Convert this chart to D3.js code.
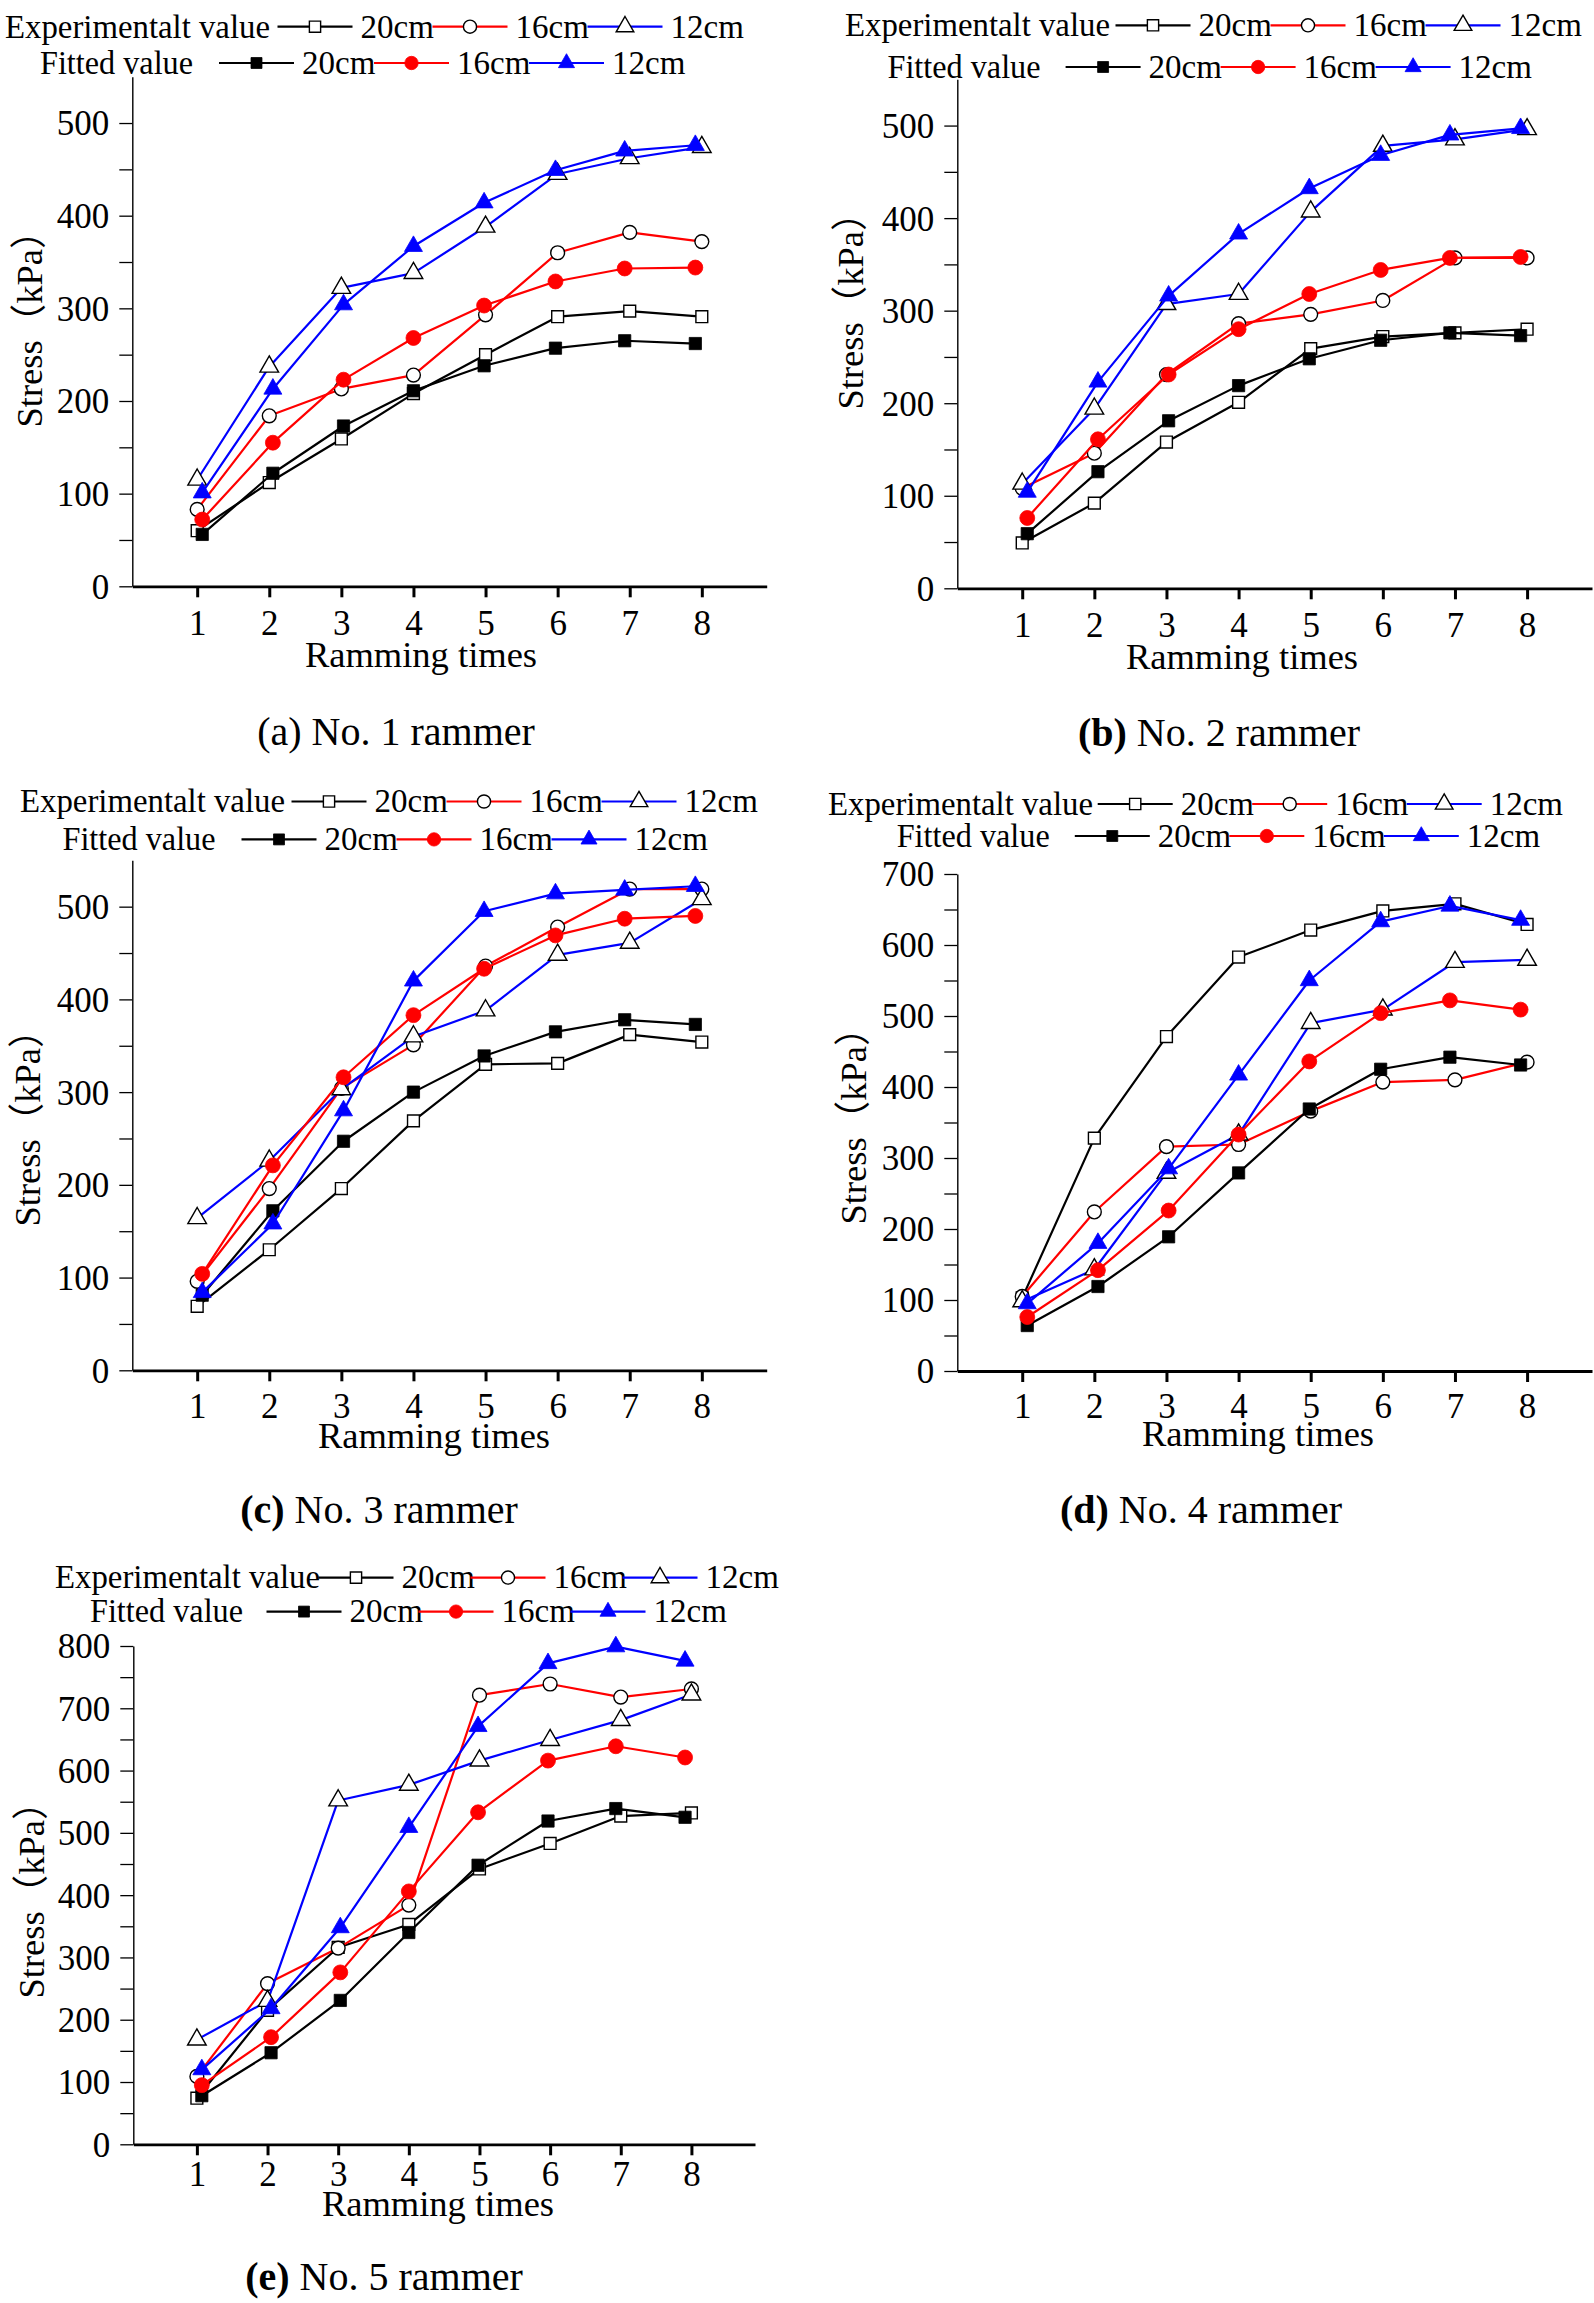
<!DOCTYPE html>
<html>
<head>
<meta charset="utf-8">
<script src="https://cdn.jsdelivr.net/npm/d3@7"></script>
<style>
  html, body { margin: 0; padding: 0; background: #ffffff; }
  svg { display: block; }
  text { font-family: "Liberation Serif", "Times New Roman", "Noto Sans CJK SC", serif; fill: #000; }
</style>
</head>
<body>
<script>
// ---------- DATA ----------
const ramTimes = [1, 2, 3, 4, 5, 6, 7, 8];
const fittedX = [1.07, 2.05, 3.03, 4.0, 4.98, 5.97, 6.93, 7.91];
const seriesLabels = ["20cm", "16cm", "12cm"];
const legendRowLabels = ["Experimentalt value", "Fitted value"];

// (a) No. 1 rammer
const expA20 = [60, 112, 159, 208, 250, 291, 297, 291];
const expA16 = [83, 184, 213, 228, 293, 360, 382, 372];
const expA12 = [115, 237, 322, 338, 388, 445, 462, 474];
const fitA20 = [56, 122, 173, 211, 238, 257, 265, 262];
const fitA16 = [72, 155, 223, 268, 303, 329, 343, 344];
const fitA12 = [101, 213, 304, 367, 414, 449, 470, 476];

// (b) No. 2 rammer
const expB20 = [49, 92, 158, 201, 259, 272, 276, 280];
const expB16 = [108, 146, 231, 286, 296, 311, 357, 357];
const expB12 = [113, 194, 307, 318, 407, 478, 485, 496];
const fitB20 = [59, 126, 181, 219, 248, 268, 276, 273];
const fitB16 = [76, 161, 231, 280, 318, 344, 357, 358];
const fitB12 = [104, 223, 316, 383, 432, 468, 490, 497];

// (c) No. 3 rammer
const expC20 = [69, 130, 196, 269, 330, 331, 362, 354];
const expC16 = [96, 196, 304, 351, 436, 478, 519, 519];
const expC12 = [164, 226, 303, 360, 388, 448, 461, 508];
const fitC20 = [81, 172, 247, 300, 339, 365, 378, 373];
const fitC16 = [104, 221, 316, 383, 433, 469, 487, 490];
const fitC12 = [84, 158, 280, 420, 495, 514, 518, 522];

// (d) No. 4 rammer
const expD20 = [103, 328, 471, 583, 621, 648, 658, 629];
const expD16 = [105, 224, 316, 319, 366, 407, 410, 435];
const expD12 = [98, 143, 279, 333, 490, 509, 576, 579];
const fitD20 = [64, 119, 189, 279, 369, 425, 442, 431];
const fitD16 = [76, 142, 226, 333, 436, 504, 522, 509];
const fitD12 = [95, 180, 285, 417, 550, 633, 655, 635];

// (e) No. 5 rammer
const expE20 = [74, 215, 316, 353, 442, 483, 527, 532];
const expE16 = [109, 258, 315, 384, 721, 739, 718, 731];
const expE12 = [168, 230, 552, 577, 616, 649, 681, 722];
const fitE20 = [78, 147, 231, 340, 448, 519, 539, 525];
const fitE16 = [95, 172, 276, 406, 533, 616, 639, 621];
const fitE12 = [120, 218, 348, 509, 671, 772, 799, 776];

const yMaxes = [550, 550, 550, 700, 800];
const captionTags = ["(a)", "(b)", "(c)", "(d)", "(e)"];
const captionTexts = [" No. 1 rammer", " No. 2 rammer", " No. 3 rammer", " No. 4 rammer", " No. 5 rammer"];

// ---------- LAYOUT / STYLE ----------
const colors = ["#000000", "#ff0000", "#0000ff"];
const symbolTypes = [d3.symbolSquare, d3.symbolCircle, d3.symbolTriangle];
const openSizes = [140, 150, 150];
const fillSizes = [150, 175, 140];

const layouts = [
  { left: 132.3, right: 766.7, top: 76.7, bottom: 586.3, tickY: 49,
    lg: { t1: 5, l1: 277.5, t2: 40, l2: 219, y1: 26.7, y2: 63, step: 155 },
    ylab: [42, 320], xlab: [421, 667], cap: [396, 745], capBold: false },
  { left: 957.3, right: 1592, top: 79.3, bottom: 588.3, tickY: 49,
    lg: { t1: 845, l1: 1115.5, t2: 887.5, l2: 1065.6, y1: 25.3, y2: 67, step: 155 },
    ylab: [863, 302], xlab: [1242, 669], cap: [1219, 746], capBold: true },
  { left: 132.3, right: 766.7, top: 860.3, bottom: 1370.3, tickY: 48,
    lg: { t1: 20, l1: 291.5, t2: 62.5, l2: 241.5, y1: 801.5, y2: 839.4, step: 155 },
    ylab: [40, 1119], xlab: [434, 1448], cap: [379, 1523], capBold: true },
  { left: 957.3, right: 1592, top: 874, bottom: 1371, tickY: 47,
    lg: { t1: 828, l1: 1097.7, t2: 896.7, l2: 1074.8, y1: 804, y2: 836, step: 154.5 },
    ylab: [866, 1117], xlab: [1258, 1446], cap: [1201, 1523], capBold: true },
  { left: 133.3, right: 755, top: 1646, bottom: 2144.3, tickY: 42,
    lg: { t1: 55, l1: 318.5, t2: 90, l2: 266.5, y1: 1577.6, y2: 1611.6, step: 152 },
    ylab: [44, 1891], xlab: [438, 2216], cap: [384, 2290], capBold: true }
];

const panelData = [
  { exp: [expA20, expA16, expA12], fit: [fitA20, fitA16, fitA12] },
  { exp: [expB20, expB16, expB12], fit: [fitB20, fitB16, fitB12] },
  { exp: [expC20, expC16, expC12], fit: [fitC20, fitC16, fitC12] },
  { exp: [expD20, expD16, expD12], fit: [fitD20, fitD16, fitD12] },
  { exp: [expE20, expE16, expE12], fit: [fitE20, fitE16, fitE12] }
];

const svg = d3.select("body").append("svg")
  .attr("width", 1594).attr("height", 2303)
  .attr("viewBox", "0 0 1594 2303");
svg.append("rect").attr("width", 1594).attr("height", 2303).attr("fill", "#fff");

function drawMarker(g, type, cx, cy, color, filled, size) {
  g.append("path")
    .attr("d", d3.symbol().type(type).size(size)())
    .attr("transform", `translate(${cx},${cy})`)
    .attr("fill", filled ? color : "#ffffff")
    .attr("stroke", filled ? color : "#000000")
    .attr("stroke-width", filled ? 0.8 : 1.4);
}

layouts.forEach((L, pi) => {
  const D = panelData[pi];
  const yMax = yMaxes[pi];
  const g = svg.append("g");
  const x = d3.scaleLinear().domain([0.1, 8.9]).range([L.left, L.right]);
  const y = d3.scaleLinear().domain([0, yMax]).range([L.bottom, L.top]);

  // minor y ticks
  const minor = d3.range(50, yMax, 100);
  g.append("g").attr("transform", `translate(${L.left},0)`)
    .call(d3.axisLeft(y).tickValues(minor).tickSize(13).tickFormat(() => "").tickSizeOuter(0))
    .call(a => a.select(".domain").remove())
    .call(a => a.selectAll("line").attr("stroke-width", 1.3));

  // major y axis
  const major = d3.range(0, yMax + 1, 100);
  const ya = g.append("g").attr("transform", `translate(${L.left},0)`)
    .call(d3.axisLeft(y).tickValues(major).tickSize(13).tickPadding(10).tickSizeOuter(0).tickFormat(d3.format("d")));
  ya.select(".domain").attr("stroke-width", 1.4);
  ya.selectAll("line").attr("stroke-width", 1.3);
  ya.selectAll("text").attr("font-size", 35).attr("dy", "0.34em");

  // x axis
  const xa = g.append("g").attr("transform", `translate(0,${L.bottom})`)
    .call(d3.axisBottom(x).tickValues(ramTimes).tickSize(11).tickSizeOuter(0).tickFormat(d3.format("d")));
  xa.select(".domain").attr("stroke-width", 2.8);
  xa.selectAll("line").attr("stroke-width", 3);
  xa.selectAll("text").attr("font-size", 35).attr("y", L.tickY).attr("dy", 0);

  // series: experimental then fitted
  const line = d3.line();
  const order = [["exp", 0], ["exp", 1], ["exp", 2], ["fit", 0], ["fit", 1], ["fit", 2]];
  order.forEach(([kind, si]) => {
    const vals = D[kind][si];
    const xs = kind === "exp" ? ramTimes : fittedX;
    const pts = vals.map((v, i) => [x(xs[i]), y(v)]);
    g.append("path").attr("d", line(pts))
      .attr("fill", "none").attr("stroke", colors[si]).attr("stroke-width", 2.2)
      .attr("stroke-linejoin", "round");
    pts.forEach(p => drawMarker(g, symbolTypes[si], p[0], p[1], colors[si], kind === "fit",
      kind === "fit" ? fillSizes[si] : openSizes[si]));
  });

  // legend
  const lg = L.lg;
  [[lg.t1, lg.l1, lg.y1, false], [lg.t2, lg.l2, lg.y2, true]].forEach(([tx, lx0, ly, filled], ri) => {
    g.append("text").attr("x", tx).attr("y", ly + 10.8).attr("font-size", 33)
      .attr("textLength", ri === 0 ? 265 : 153).attr("lengthAdjust", "spacingAndGlyphs")
      .text(legendRowLabels[ri]);
    seriesLabels.forEach((lab, si) => {
      const lx = lx0 + si * lg.step;
      g.append("line").attr("x1", lx).attr("x2", lx + 75).attr("y1", ly).attr("y2", ly)
        .attr("stroke", colors[si]).attr("stroke-width", 2.2);
      drawMarker(g, symbolTypes[si], lx + 37.5, ly, colors[si], filled,
        filled ? fillSizes[si] * 0.8 : openSizes[si] * 0.9);
      g.append("text").attr("x", lx + 83).attr("y", ly + 10.8).attr("font-size", 33).text(lab);
    });
  });

  // axis titles
  g.append("text")
    .attr("transform", `translate(${L.ylab[0]},${L.ylab[1]}) rotate(-90)`)
    .attr("text-anchor", "middle").attr("font-size", 36.5)
    .text("Stress（kPa）");
  g.append("text").attr("x", L.xlab[0]).attr("y", L.xlab[1])
    .attr("text-anchor", "middle").attr("font-size", 36.5)
    .text("Ramming times");

  // caption
  const cap = g.append("text").attr("x", L.cap[0]).attr("y", L.cap[1])
    .attr("text-anchor", "middle").attr("font-size", 40);
  cap.append("tspan").attr("font-weight", L.capBold ? "bold" : "normal").text(captionTags[pi]);
  cap.append("tspan").text(captionTexts[pi]);
});
</script>
</body>
</html>
